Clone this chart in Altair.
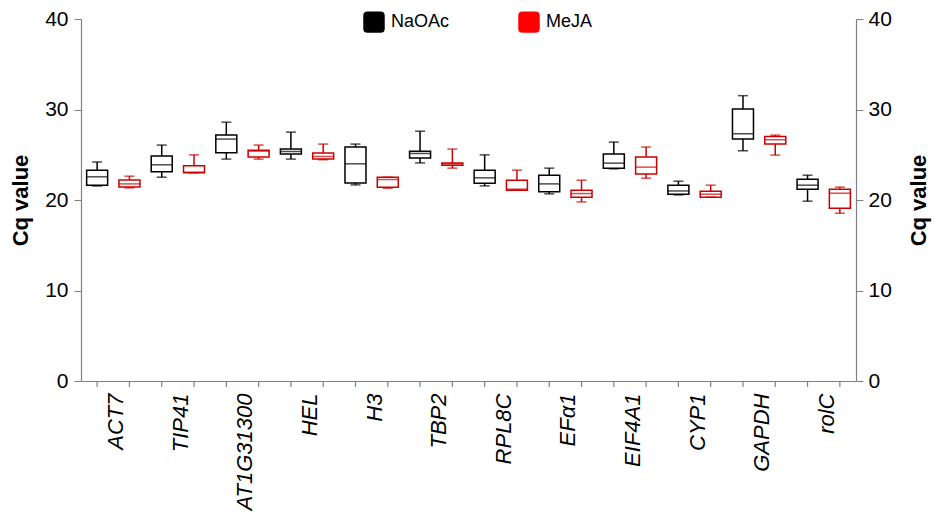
import altair as alt
import pandas as pd

genes = ["ACT7", "TIP41", "AT1G31300", "HEL", "H3", "TBP2", "RPL8C", "EFα1", "EIF4A1", "CYP1", "GAPDH", "rolC"]
treatments = ["NaOAc", "MeJA"]

# NaOAc box statistics
naoac_lo = [21.56, 22.52, 24.52, 24.52, 21.67, 24.10, 21.56, 20.68, 23.44, 20.56, 25.44, 19.87]
naoac_q1 = [21.64, 23.11, 25.22, 25.07, 21.89, 24.63, 21.86, 20.90, 23.52, 20.64, 26.73, 21.20]
naoac_med = [22.56, 23.89, 26.73, 25.36, 24.00, 25.14, 22.45, 21.78, 24.07, 21.00, 27.32, 21.64]
naoac_q3 = [23.30, 24.85, 27.17, 25.63, 25.85, 25.40, 23.30, 22.74, 25.07, 21.64, 30.05, 22.30]
naoac_hi = [24.19, 26.07, 28.60, 27.50, 26.18, 27.60, 24.99, 23.52, 26.40, 22.08, 31.53, 22.74]

# MeJA box statistics
meja_lo = [21.34, 23.00, 24.52, 24.45, 21.30, 23.52, 21.08, 19.79, 22.41, 20.31, 24.96, 18.54]
meja_q1 = [21.45, 23.00, 24.74, 24.52, 21.41, 23.85, 21.08, 20.31, 22.86, 20.31, 26.18, 19.09]
meja_med = [21.78, 23.08, 25.40, 24.81, 22.26, 24.00, 21.20, 20.71, 23.63, 20.64, 26.66, 20.75]
meja_q3 = [22.22, 23.78, 25.51, 25.18, 22.52, 24.10, 22.19, 21.08, 24.74, 20.97, 27.02, 21.20]
meja_hi = [22.63, 24.99, 26.07, 26.18, 22.52, 25.63, 23.30, 22.19, 25.85, 21.64, 27.17, 21.42]

rows = []
for i, g in enumerate(genes):
    rows.append(dict(gene=g, treatment="NaOAc", lo=naoac_lo[i], q1=naoac_q1[i], med=naoac_med[i], q3=naoac_q3[i], hi=naoac_hi[i]))
    rows.append(dict(gene=g, treatment="MeJA", lo=meja_lo[i], q1=meja_q1[i], med=meja_med[i], q3=meja_q3[i], hi=meja_hi[i]))
df = pd.DataFrame(rows)

FONT = "Liberation Sans"
GRAY = "#808080"
W, H = 775, 362
BOX_W = 21
CAP_W = 10
LW = 1.5

yscale = alt.Scale(domain=[0, 40], nice=False, zero=True)
legend_scale = alt.Scale(domain=treatments, range=["#000000", "#ff0000"])
line_col = alt.condition(alt.datum.treatment == "NaOAc", alt.value("#000000"), alt.value("#cc0000"))

x_enc = alt.X(
    "gene:N", sort=genes, title=None,
    scale=alt.Scale(domain=genes, paddingInner=0, paddingOuter=0),
    axis=alt.Axis(labelAngle=-90, labelFontSize=22, labelFontStyle="italic", labelFont=FONT,
                  labelColor="black", ticks=False, labelPadding=12, labelOffset=3, domainColor=GRAY,
                  domainWidth=1.2, labelLimit=300),
)
xo_enc = alt.XOffset("treatment:N", sort=treatments,
                     scale=alt.Scale(domain=treatments, paddingInner=0, paddingOuter=0))

left_axis = alt.Axis(orient="left", values=[0, 10, 20, 30, 40], labelFontSize=21, labelFont=FONT,
                     labelColor="black", tickSize=7, tickColor=GRAY, domainColor=GRAY, domainWidth=1.2,
                     labelPadding=6, title="Cq value", titleFontSize=22, titleFont=FONT,
                     titleFontWeight="bold", titleAngle=270, titleBaseline="bottom", titlePadding=12,
                     grid=False)
right_axis = alt.Axis(orient="right", values=[0, 10, 20, 30, 40], labelFontSize=21, labelFont=FONT,
                      labelColor="black", tickSize=7, tickColor=GRAY, domainColor=GRAY, domainWidth=1.2,
                      labelPadding=5, title="Cq value", titleFontSize=22, titleFont=FONT,
                      titleFontWeight="bold", titleAngle=270, titleBaseline="top", titlePadding=17,
                      grid=False)

base = alt.Chart(df)

whisker = base.mark_rule(strokeWidth=LW).encode(
    x=x_enc, xOffset=xo_enc,
    y=alt.Y("lo:Q", scale=yscale, axis=left_axis),
    y2="hi:Q",
    stroke=line_col,
)

box = base.mark_bar(size=BOX_W, fill="white", strokeWidth=LW).encode(
    x=x_enc, xOffset=xo_enc,
    y=alt.Y("q1:Q", scale=yscale, axis=right_axis),
    y2="q3:Q",
    stroke=line_col,
)

median = base.mark_tick(size=BOX_W, thickness=LW).encode(
    x=x_enc, xOffset=xo_enc,
    y=alt.Y("med:Q", scale=yscale, axis=None),
    fill=line_col,
)

cap_lo = base.mark_tick(size=CAP_W, thickness=LW).encode(
    x=x_enc, xOffset=xo_enc,
    y=alt.Y("lo:Q", scale=yscale, axis=None),
    fill=line_col,
)

cap_hi = base.mark_tick(size=CAP_W, thickness=LW).encode(
    x=x_enc, xOffset=xo_enc,
    y=alt.Y("hi:Q", scale=yscale, axis=None),
    fill=line_col,
)

xticks = base.mark_rule(strokeWidth=1.2, color=GRAY).encode(
    x=x_enc, xOffset=xo_enc,
    y=alt.value(H), y2=alt.value(H + 6),
)

rounded = "M-0.6,-1L0.6,-1Q1,-1,1,-0.6L1,0.6Q1,1,0.6,1L-0.6,1Q-1,1,-1,0.6L-1,-0.6Q-1,-1,-0.6,-1Z"
legend_layer = base.mark_square(size=0, filled=True).encode(
    x=x_enc, xOffset=xo_enc,
    y=alt.Y("med:Q", scale=yscale, axis=None),
    fill=alt.Fill("treatment:N", scale=legend_scale, sort=treatments,
                  legend=alt.Legend(title=None, orient="none", direction="horizontal",
                                    legendX=282, legendY=-8, symbolType=rounded, symbolSize=462,
                                    symbolOpacity=1, symbolStrokeWidth=0, labelFontSize=18,
                                    labelFont=FONT, labelColor="black", labelOffset=6,
                                    columnPadding=68, padding=0)),
)

chart = alt.layer(whisker, box, median, cap_lo, cap_hi, xticks, legend_layer).resolve_axis(
    y="independent"
).properties(
    width=W, height=H,
    autosize=alt.AutoSizeParams(type="none"),
    padding={"left": 73, "top": 11, "right": 76, "bottom": 132},
).configure_view(strokeWidth=0).configure_axis(grid=False)

chart.save("out.html", embed_options={"renderer": "svg", "actions": False})
